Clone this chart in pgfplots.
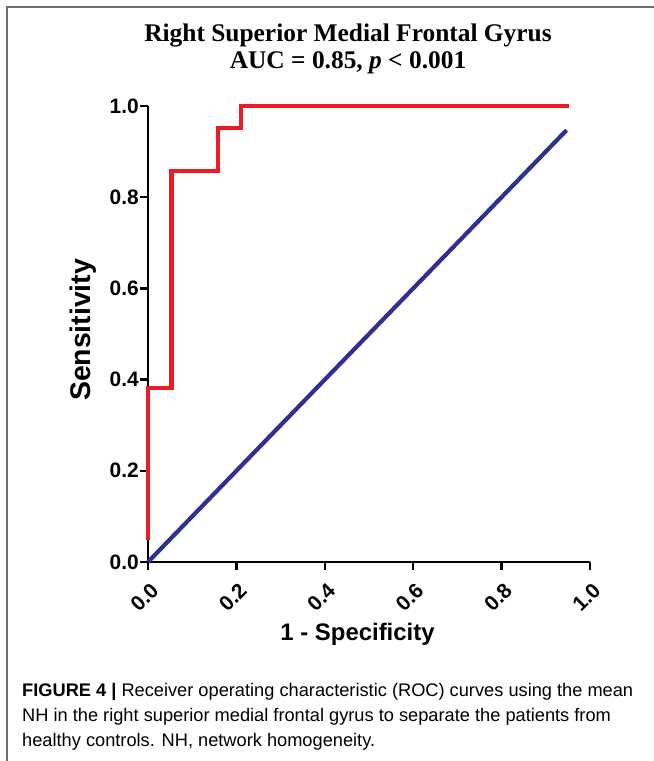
\documentclass[border=0pt]{standalone}
\usepackage{fontspec}
\setmainfont{Liberation Sans}
\newfontfamily\titlefont{Liberation Serif}
\usepackage{pgfplots}
\pgfplotsset{compat=1.18}
\definecolor{rocred}{HTML}{ED1C24}
\definecolor{rocblue}{HTML}{2E3192}
\definecolor{framegray}{HTML}{6D6E71}

\begin{document}
\begin{tikzpicture}[x=1bp,y=1bp]
\path[use as bounding box] (0,0) rectangle (654,761);
\draw[framegray, line width=1.6bp] (7,0) -- (7,754) -- (654,754);

% title
\node[font=\titlefont\bfseries\fontsize{25.5}{28}\selectfont] at (348,725) {Right Superior Medial Frontal Gyrus};
\node[font=\titlefont\bfseries\fontsize{25.5}{28}\selectfont] at (348,698) {AUC = 0.85, \textit{p} < 0.001};

\begin{axis}[
    at={(148bp,199bp)}, anchor=south west,
    scale only axis,
    width=442bp, height=456bp,
    xmin=0, xmax=1, ymin=0, ymax=1,
    clip=false,
    axis x line=bottom, axis y line=left,
    axis line style={-, line width=2.6bp, black},
    tick align=outside,
    major tick length=8bp,
    every tick/.style={black, line width=2.4bp},
    xtick={0,0.2,...,1.0}, ytick={0,0.2,...,1.0},
    /pgf/number format/assume math mode=true,
    /pgf/number format/.cd, fixed, fixed zerofill, precision=1, /pgfplots/.cd,
    ticklabel style={font=\bfseries\fontsize{21}{21}\selectfont},
    yticklabel style={inner sep=1bp},
    xticklabel style={rotate=45, anchor=north east, inner sep=0pt, xshift=-7bp, yshift=-9bp},
    xlabel={1 - Specificity},
    ylabel={Sensitivity},
    xlabel style={font=\bfseries\fontsize{24}{24}\selectfont, at={(axis description cs:0.474,-0.159)}, anchor=center},
    ylabel style={font=\bfseries\fontsize{28.5}{28.5}\selectfont, at={(axis description cs:-0.147,0.509)}, anchor=center, rotate=0},
]
\addplot[rocblue, line width=4.2bp] coordinates {(0,0) (0.947,0.947)};
\addplot[rocred, line width=4.2bp, line join=miter] coordinates {
    (0,0.048) (0,0.381) (0.053,0.381) (0.053,0.857) (0.158,0.857)
    (0.158,0.952) (0.211,0.952) (0.211,1.0) (0.953,1.0)
};
\end{axis}

% caption
\node[anchor=base west, inner sep=0pt, font=\fontsize{18.3}{25}\selectfont] at (22,64) {\textbf{FIGURE 4 |} Receiver operating characteristic (ROC) curves using the mean};
\node[anchor=base west, inner sep=0pt, font=\fontsize{18.3}{25}\selectfont] at (22,39) {NH in the right superior medial frontal gyrus to separate the patients from};
\node[anchor=base west, inner sep=0pt, font=\fontsize{18.3}{25}\selectfont] at (22,14) {healthy controls. NH, network homogeneity.};
\end{tikzpicture}
\end{document}
